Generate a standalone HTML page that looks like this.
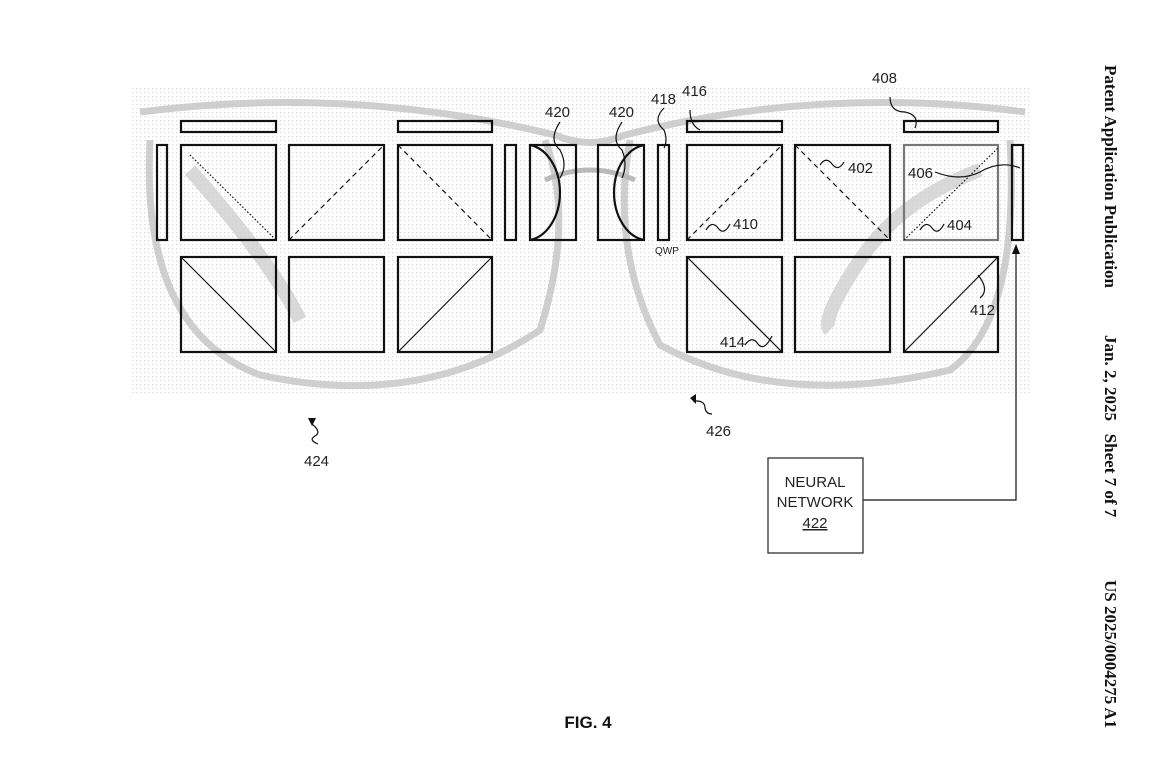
<!DOCTYPE html>
<html><head><meta charset="utf-8"><style>
body{margin:0;background:#fff;width:1167px;height:767px;overflow:hidden}
svg text{font-family:"Liberation Sans Narrow","Liberation Sans",sans-serif}
</style></head><body>
<svg width="1167" height="767" viewBox="0 0 1167 767" xmlns="http://www.w3.org/2000/svg">
<defs>
<pattern id="dots" width="4" height="4" patternUnits="userSpaceOnUse"><rect width="4" height="4" fill="#fff"/><rect width="1.3" height="1.3" fill="#dcdcdc"/></pattern>
</defs>
<rect x="130" y="88" width="902" height="305" fill="url(#dots)"/>
<g fill="none" stroke="#c4c4c4" stroke-width="7" opacity="0.8">
<path d="M140 112 Q350 85 555 135 Q590 150 625 135 Q820 85 1025 112"/>
<path d="M150 140 Q140 330 260 375 Q420 410 540 330 Q575 220 545 140"/>
<path d="M630 140 Q610 250 660 345 Q780 410 950 370 Q1020 320 1010 140"/>
<path d="M190 170 Q270 260 300 320" stroke-width="14" stroke="#d0d0d0"/>
<path d="M980 170 Q900 200 860 260 Q820 320 830 330" stroke-width="14" stroke="#d0d0d0"/>
<path d="M545 180 Q590 160 635 180" stroke-width="5" stroke="#aaa"/>
</g>
<g fill="none" stroke="#111" stroke-width="2.2">
<rect x="181" y="121" width="95" height="11"/>
<rect x="398" y="121" width="94" height="11"/>
<rect x="687" y="121" width="95" height="11"/>
<rect x="904" y="121" width="94" height="11"/>
<rect x="157" y="145" width="10" height="95"/>
<rect x="505" y="145" width="11" height="95"/>
<rect x="658" y="145" width="11" height="95"/>
<rect x="1012" y="145" width="11" height="95"/>
<rect x="181" y="145" width="95" height="95"/>
<rect x="289" y="145" width="95" height="95"/>
<rect x="398" y="145" width="94" height="95"/>
<rect x="530" y="145" width="46" height="95"/>
<rect x="598" y="145" width="46" height="95"/>
<rect x="687" y="145" width="95" height="95"/>
<rect x="795" y="145" width="95" height="95"/>
<rect x="904" y="145" width="94" height="95" stroke="#777"/>
<rect x="181" y="257" width="95" height="95"/>
<rect x="289" y="257" width="95" height="95"/>
<rect x="398" y="257" width="94" height="95"/>
<rect x="687" y="257" width="95" height="95"/>
<rect x="795" y="257" width="95" height="95"/>
<rect x="904" y="257" width="94" height="95"/>
<path d="M530 145 A35 48 0 0 1 530 240" />
<path d="M644 145 A35 48 0 0 0 644 240" />
</g>
<g fill="none" stroke="#111" stroke-width="1.2">
<path d="M181 257 L276 352"/><path d="M398 352 L492 257"/>
<path d="M687 257 L782 352"/><path d="M904 352 L998 257"/>
<path d="M289 240 L384 145" stroke-dasharray="5 4"/>
<path d="M398 145 L492 240" stroke-dasharray="5 4"/>
<path d="M687 240 L782 145" stroke-dasharray="5 4"/>
<path d="M795 145 L890 240" stroke-dasharray="5 4"/>
<path d="M190 155 L276 240" stroke-dasharray="1.5 2"/>
<path d="M904 240 L998 148" stroke-dasharray="1.5 2"/>
<path d="M560 122 Q548 140 560 150 Q568 165 560 178"/>
<path d="M622 122 Q610 140 622 150 Q628 165 622 178"/>
<path d="M664 108 Q652 120 664 130 Q668 140 664 148"/>
<path d="M690 110 Q690 125 700 130"/>
<path d="M890 97 Q890 112 905 112 Q920 115 915 128"/>
<path d="M706 230 Q712 220 718 228 Q724 236 730 224"/>
<path d="M820 165 Q826 156 832 164 Q838 172 844 162"/>
<path d="M920 230 Q926 220 932 228 Q938 236 944 224"/>
<path d="M935 172 Q960 182 980 172 Q1000 160 1020 168"/>
<path d="M978 275 Q990 290 980 298"/>
<path d="M745 345 Q752 335 758 344 Q764 352 772 336"/>
<path d="M312 424 Q322 432 315 436 Q308 440 318 444"/>
<path d="M693 401 Q705 400 705 408 Q706 414 712 414"/>
<path d="M863 500 L1016 500 L1016 250"/>
</g>
<path d="M1012 254 L1016 244 L1020 254 Z" fill="#111"/>
<path d="M308 418 L316 418 L312 426 Z" fill="#111"/>
<path d="M690 398 L696 394 L696 404 Z" fill="#111"/>
<rect x="768" y="458" width="95" height="95" fill="none" stroke="#333" stroke-width="1.3"/>
<g font-size="15" fill="#222">
<text x="545" y="117">420</text><text x="609" y="117">420</text>
<text x="651" y="104">418</text><text x="682" y="96">416</text>
<text x="872" y="83">408</text>
<text x="733" y="229">410</text><text x="848" y="173">402</text>
<text x="908" y="178">406</text><text x="947" y="230">404</text>
<text x="970" y="315">412</text><text x="720" y="347">414</text>
<text x="304" y="466">424</text><text x="706" y="436">426</text>
<text x="655" y="254" font-size="10">QWP</text>
<text x="815" y="487" text-anchor="middle">NEURAL</text>
<text x="815" y="507" text-anchor="middle">NETWORK</text>
<text x="815" y="528" text-anchor="middle" text-decoration="underline">422</text>
</g>
<text x="588" y="728" text-anchor="middle" font-size="17" font-weight="bold" fill="#111">FIG. 4</text>
<g transform="translate(1105,65) rotate(90)" font-weight="bold" font-size="17" fill="#111">
<text x="0" y="0" style="font-family:'Liberation Serif',serif">Patent Application Publication</text>
<text x="270" y="0" style="font-family:'Liberation Serif',serif" xml:space="preserve">Jan. 2, 2025   Sheet 7 of 7</text>
<text x="515" y="0" style="font-family:'Liberation Serif',serif">US 2025/0004275 A1</text>
</g>
</svg>
</body></html>
